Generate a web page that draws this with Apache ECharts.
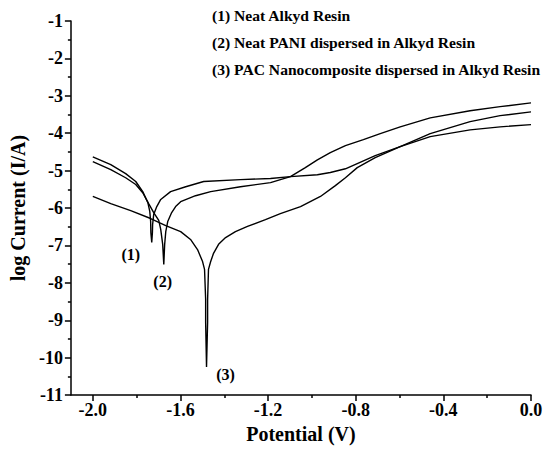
<!DOCTYPE html>
<html>
<head>
<meta charset="utf-8">
<script src="https://cdn.jsdelivr.net/npm/echarts@6/dist/echarts.min.js"></script>
<style>html,body{margin:0;padding:0;background:#fff}#c{width:547px;height:449px}</style>
</head>
<body>
<div id="c"></div>
<script>
// Curve (1) Neat Alkyd Resin
const pot1 = [-2.000,-1.918,-1.850,-1.804,-1.772,-1.749,-1.740,-1.736,-1.735,-1.731,-1.728,-1.727,-1.722,-1.708,-1.690,-1.645,-1.576,-1.494,-1.326,-1.189,-1.098,-0.975,-0.916,-0.847,-0.793,-0.711,-0.597,-0.460,-0.278,-0.141,0.000];
const log1 = [-4.63,-4.84,-5.08,-5.29,-5.56,-5.85,-6.09,-6.36,-6.66,-6.92,-6.66,-6.44,-6.17,-5.96,-5.77,-5.56,-5.43,-5.29,-5.24,-5.21,-5.16,-5.11,-5.05,-4.95,-4.81,-4.60,-4.36,-4.09,-3.91,-3.83,-3.77];
// Curve (2) Neat PANI dispersed in Alkyd Resin
const pot2 = [-2.000,-1.918,-1.850,-1.804,-1.772,-1.745,-1.722,-1.699,-1.690,-1.681,-1.676,-1.672,-1.667,-1.658,-1.640,-1.622,-1.599,-1.531,-1.462,-1.326,-1.189,-1.098,-1.030,-0.975,-0.916,-0.847,-0.765,-0.688,-0.597,-0.460,-0.278,-0.141,0.000];
const log2 = [-4.76,-4.97,-5.19,-5.37,-5.59,-5.88,-6.12,-6.33,-6.57,-6.97,-7.51,-6.97,-6.63,-6.36,-6.12,-5.96,-5.83,-5.67,-5.56,-5.43,-5.32,-5.16,-4.92,-4.71,-4.52,-4.33,-4.17,-4.01,-3.83,-3.59,-3.40,-3.29,-3.19];
// Curve (3) PAC Nanocomposite dispersed in Alkyd Resin
const pot3 = [-2.000,-1.918,-1.827,-1.736,-1.667,-1.599,-1.554,-1.522,-1.499,-1.490,-1.485,-1.485,-1.481,-1.476,-1.476,-1.472,-1.462,-1.449,-1.426,-1.394,-1.349,-1.294,-1.212,-1.144,-1.052,-0.961,-0.893,-0.847,-0.793,-0.711,-0.597,-0.460,-0.278,-0.141,0.000];
const log3 = [-5.69,-5.88,-6.07,-6.28,-6.47,-6.63,-6.84,-7.11,-7.43,-7.64,-8.44,-9.05,-10.25,-9.05,-8.44,-7.64,-7.43,-7.21,-6.97,-6.79,-6.63,-6.49,-6.31,-6.15,-5.96,-5.69,-5.40,-5.19,-4.92,-4.65,-4.36,-4.01,-3.69,-3.53,-3.43];

const xMajorTicks = [-2.0,-1.6,-1.2,-0.8,-0.4,0.0];
const xMinorTicks = [-1.8,-1.4,-1.0,-0.6,-0.2];
const legendLines = ['(1) Neat Alkyd Resin','(2) Neat PANI dispersed in Alkyd Resin','(3) PAC Nanocomposite dispersed in Alkyd Resin'];
const annotText = ['(1)','(2)','(3)'];
const annotPot = [-1.827,-1.681,-1.394];
const annotLog = [-7.24,-7.96,-10.45];

const FONT = '"Liberation Serif","Times New Roman",serif';
const pair = (xs, ys) => xs.map((x, i) => [x, ys[i]]);
const lineSeries = (xs, ys) => ({
  type: 'line', data: pair(xs, ys), showSymbol: false, symbol: 'none',
  lineStyle: { color: '#000', width: 1.4 }, xAxisIndex: 0, yAxisIndex: 0, z: 3
});

const chart = echarts.init(document.getElementById('c'), null, { renderer: 'svg' });
chart.setOption({
  animation: false,
  backgroundColor: '#fff',
  grid: { left: 70, right: 16, top: 21, bottom: 53, containLabel: false },
  xAxis: [{
    type: 'value', min: -2.1, max: 0,
    name: 'Potential (V)', nameLocation: 'middle', nameGap: 26,
    nameTextStyle: { fontFamily: FONT, fontWeight: 'bold', fontSize: 20, color: '#000' },
    axisLine: { show: true, onZero: false, lineStyle: { color: '#000', width: 1.5 } },
    axisTick: { show: true, customValues: xMajorTicks, length: 6, lineStyle: { color: '#000', width: 1.5 } },
    axisLabel: { show: true, customValues: xMajorTicks, margin: 6, formatter: v => Number(v).toFixed(1),
      fontFamily: FONT, fontWeight: 'bold', fontSize: 18, color: '#000' },
    splitLine: { show: false }
  }, {
    type: 'value', min: -2.1, max: 0, position: 'bottom',
    axisLine: { show: false },
    axisTick: { show: true, customValues: xMinorTicks, length: 3, lineStyle: { color: '#000', width: 1.5 } },
    axisLabel: { show: false },
    splitLine: { show: false }
  }],
  yAxis: {
    type: 'value', min: -11, max: -1, interval: 1,
    name: 'log Current (I/A)', nameLocation: 'middle', nameGap: 42,
    nameTextStyle: { fontFamily: FONT, fontWeight: 'bold', fontSize: 20, color: '#000' },
    axisLine: { show: true, onZero: false, lineStyle: { color: '#000', width: 1.5 } },
    axisTick: { show: true, length: 6, lineStyle: { color: '#000', width: 1.5 } },
    minorTick: { show: true, splitNumber: 2, length: 3, lineStyle: { color: '#000', width: 1.5 } },
    axisLabel: { margin: 8, fontFamily: FONT, fontWeight: 'bold', fontSize: 18, color: '#000' },
    splitLine: { show: false }
  },
  graphic: legendLines.map((t, i) => ({
    type: 'text', left: 212, top: 7 + i * 27, z: 10,
    style: { text: t, fontFamily: FONT, fontWeight: 'bold', fontSize: 15.6, fill: '#000' }
  })),
  series: [
    lineSeries(pot1, log1),
    lineSeries(pot2, log2),
    lineSeries(pot3, log3),
    {
      type: 'scatter', symbolSize: 0, xAxisIndex: 0, yAxisIndex: 0,
      itemStyle: { opacity: 1 },
      data: annotPot.map((x, i) => ({ value: [x, annotLog[i]], name: annotText[i] })),
      label: { show: true, position: 'inside', formatter: p => p.name, opacity: 1,
        fontFamily: FONT, fontWeight: 'bold', fontSize: 16, color: '#000' }
    }
  ]
});
</script>
</body>
</html>
